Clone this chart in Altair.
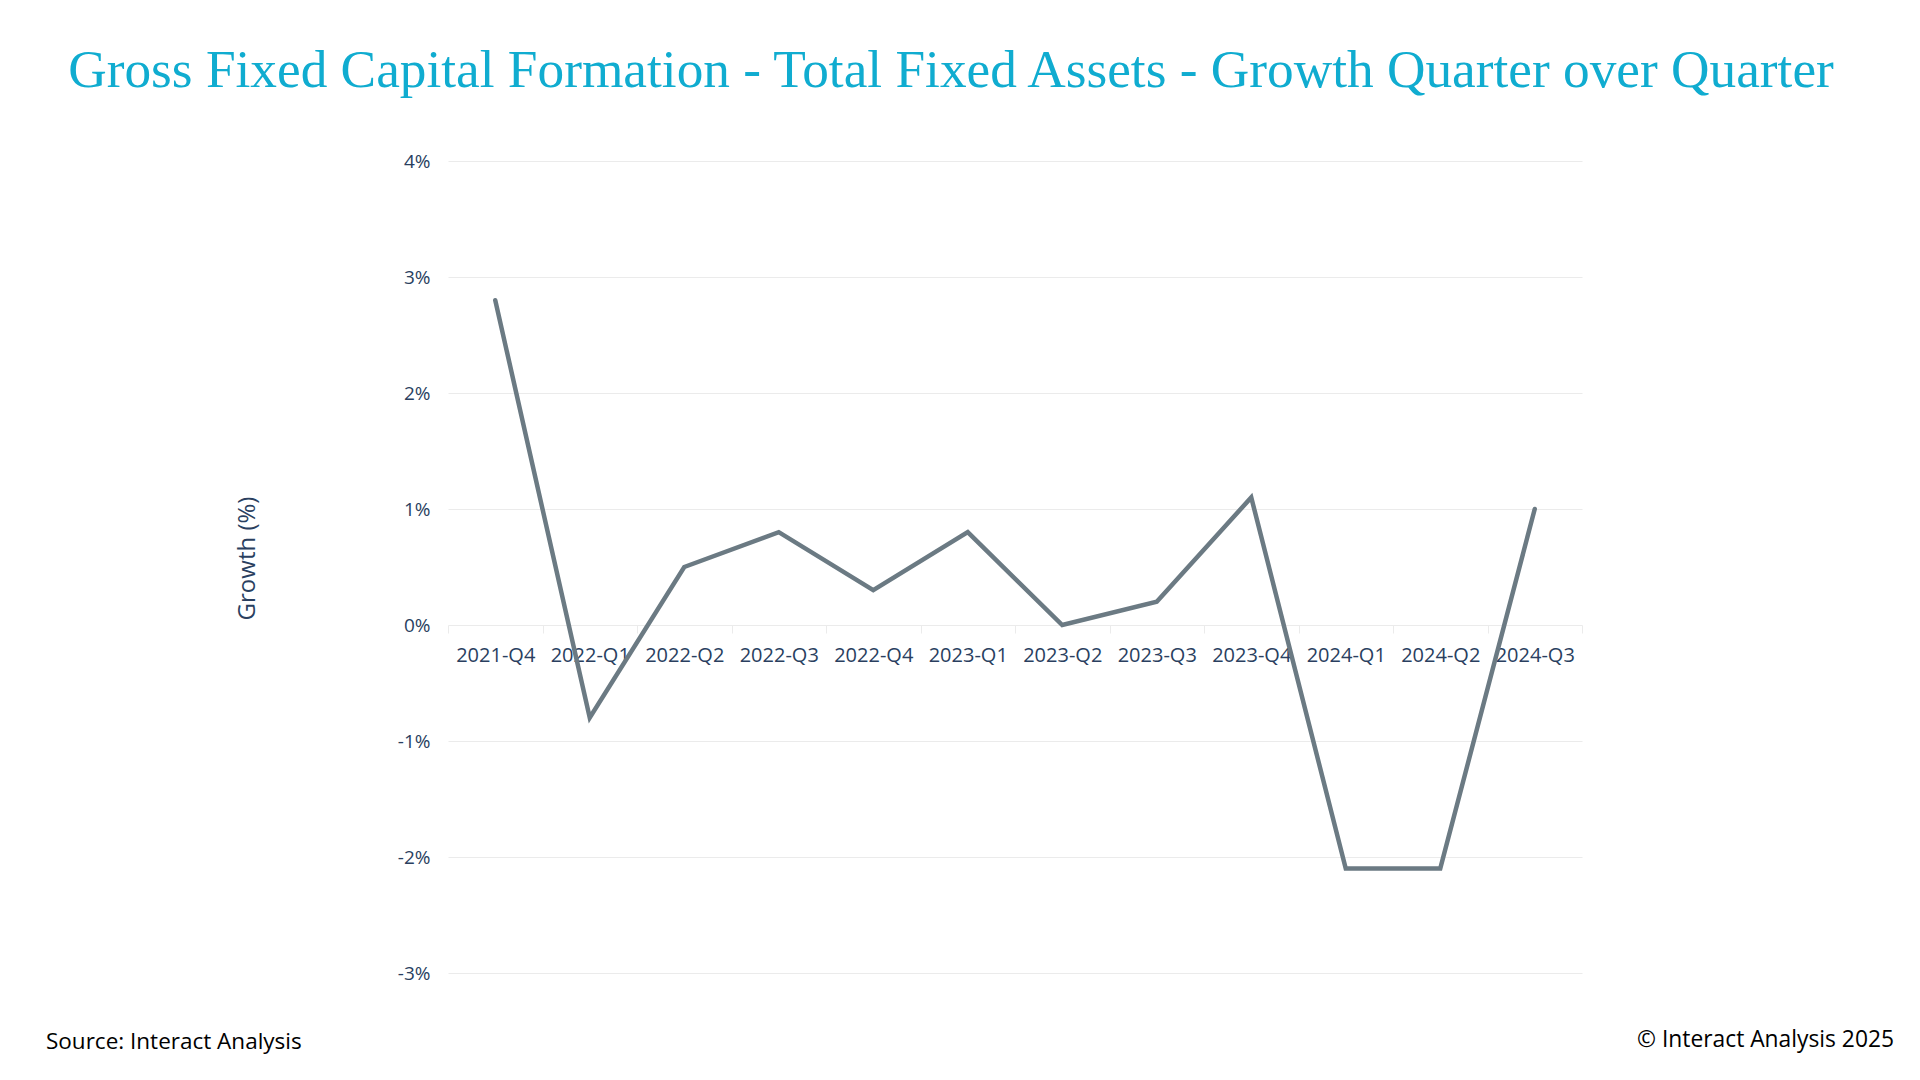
import altair as alt
import pandas as pd

quarters = ["2021-Q4", "2022-Q1", "2022-Q2", "2022-Q3", "2022-Q4", "2023-Q1",
            "2023-Q2", "2023-Q3", "2023-Q4", "2024-Q1", "2024-Q2", "2024-Q3"]
growth = [2.8, -0.8, 0.5, 0.8, 0.3, 0.8, 0.0, 0.2, 1.1, -2.1, -2.1, 1.0]
y_ticks = [-3, -2, -1, 0, 1, 2, 3, 4]
title_text = "Gross Fixed Capital Formation - Total Fixed Assets - Growth Quarter over Quarter"
source_text = ["Source: Interact Analysis"]
copyright_text = ["\u00a9 Interact Analysis 2025"]

W, H = 1134, 812
Y_MIN, Y_MAX = -3, 4
zero_offset = -H * (0 - Y_MIN) / (Y_MAX - Y_MIN)

df = pd.DataFrame({"quarter": quarters, "growth": growth})

line = alt.Chart(df).mark_line(color="#6b7a83", strokeWidth=4.5, strokeCap="round").encode(
    x=alt.X("quarter:N", sort=quarters,
            scale=alt.Scale(paddingInner=0, paddingOuter=0),
            axis=alt.Axis(title=None, labelAngle=0, domain=False, grid=False,
                          ticks=True, tickBand="extent", tickColor="#ebebeb",
                          tickSize=8, labelFont="Open Sans", labelFontSize=20,
                          labelColor="#2a3f5f", labelPadding=12,
                          offset=zero_offset)),
    y=alt.Y("growth:Q", scale=alt.Scale(domain=[Y_MIN, Y_MAX], nice=False, zero=False),
            axis=alt.Axis(values=y_ticks, labelExpr="datum.value + '%'", domain=False,
                          ticks=False, gridColor="#ebebeb", gridWidth=1,
                          labelFont="Open Sans", labelFontSize=19, labelColor="#2a3f5f",
                          labelPadding=18, title="Growth (%)", titleFont="Open Sans",
                          titleFontSize=24, titleFontWeight="normal", titleColor="#2a3f5f",
                          titleX=-194, titleY=H / 2 - 9, titleAngle=270,
                          titleBaseline="alphabetic", titleAlign="center")),
)

source = alt.Chart(pd.DataFrame({"t": source_text})).mark_text(
    align="left", baseline="alphabetic", font="Open Sans", fontSize=22.5, color="#000000"
).encode(text="t:N", x=alt.value(-402), y=alt.value(888))

copyright = alt.Chart(pd.DataFrame({"t": copyright_text})).mark_text(
    align="right", baseline="alphabetic", font="Open Sans", fontSize=22.8, color="#000000"
).encode(text="t:N", x=alt.value(1446), y=alt.value(886))

chart = alt.layer(line, source, copyright).properties(
    width=W, height=H,
    title=alt.TitleParams(title_text, font="Liberation Serif", fontSize=53.3,
                          fontWeight="normal", color="#10acd0", anchor="middle",
                          frame="group", dx=-64, baseline="alphabetic", offset=12),
    autosize=alt.AutoSizeParams(type="none"),
    padding={"left": 440, "top": 153, "right": 325, "bottom": 90},
).configure(background="#ffffff").configure_view(stroke=None)

chart.save("out.html", embed_options={"renderer": "svg", "actions": False})
